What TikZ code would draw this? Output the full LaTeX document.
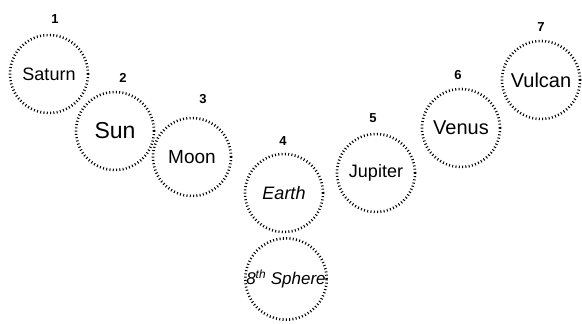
\documentclass[tikz,border=0pt]{standalone}
\usepackage{fontspec}
\setmainfont{Liberation Sans}
\usepackage{tikz}
\usetikzlibrary{positioning}

\begin{document}
\begin{tikzpicture}[
  x=1pt, y=-1pt,
  orb/.style={circle, draw, line width=2.6pt, dash pattern=on 1pt off 2.3pt, minimum size=78pt, inner sep=0pt, font=\fontsize{18}{20}\selectfont},
  num/.style={font=\bfseries\fontsize{13}{15}\selectfont, inner sep=1pt}
]
  \useasboundingbox (0,0) rectangle (582,324);
  \node[orb] (saturn) at (49, 74) {Saturn};
  \node[orb] (sun) at (115, 131) {\fontsize{23}{25}\selectfont Sun};
  \node[orb] (moon) at (192, 157) {\fontsize{19}{21}\selectfont Moon};
  \node[orb] (earth) at (284, 193) {\itshape Earth};
  \node[orb] (sphere) at (286, 279) {\itshape\fontsize{17}{19}\selectfont 8\textsuperscript{th} Sphere};
  \node[orb] (jupiter) at (376, 173) {Jupiter};
  \node[orb] (venus) at (461, 128) {\fontsize{20}{22}\selectfont Venus};
  \node[orb] (vulcan) at (541, 80) {\fontsize{20}{22}\selectfont Vulcan};
  \node[num] (n1) at (55, 19) {1};
  \node[num] (n2) at (123, 78) {2};
  \node[num] (n3) at (203, 99) {3};
  \node[num] (n4) at (283, 141) {4};
  \node[num] (n5) at (373, 118) {5};
  \node[num] (n6) at (458, 75) {6};
  \node[num] (n7) at (541, 27) {7};
\end{tikzpicture}
\end{document}
